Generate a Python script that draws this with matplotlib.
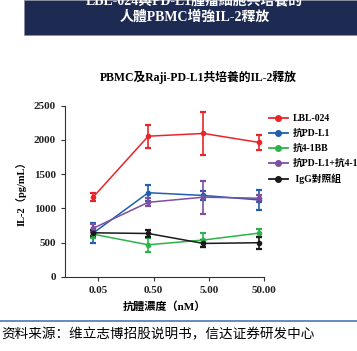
import numpy as np
import matplotlib.pyplot as plt
from matplotlib.patches import Rectangle
from matplotlib.lines import Line2D

plt.rcParams['font.family'] = ['Liberation Serif', 'Noto Sans CJK TC', 'DejaVu Sans']

# data
conc = np.array([0.04, 0.40, 4.0, 40.0])
tick_pos = [0.05, 0.5, 5, 50]
tick_lab = ["0.05", "0.50", "5.00", "50.00"]

series = ["LBL-024", "抗PD-L1", "抗4-1BB", "抗PD-L1+抗4-1BB", " IgG對照組"]
colors = ["#e8262a", "#1f5fb0", "#2db34a", "#7d4ea3", "#1a1a1a"]
vals = [
    [1165, 2055, 2095, 1965],
    [640, 1230, 1190, 1125],
    [625, 470, 540, 640],
    [710, 1090, 1165, 1150],
    [645, 635, 490, 500],
]
errs = [
    [60, 170, 310, 110],
    [145, 115, 60, 140],
    [60, 100, 100, 55],
    [60, 60, 240, 50],
    [40, 45, 50, 85],
]

fig = plt.figure(figsize=(3.57, 3.51), dpi=100)

# header box
fig.patches.append(Rectangle((24/357, 1-35/351), 1, 35/351, transform=fig.transFigure,
                             facecolor="#1d2a52", edgecolor="#8a8fa0", lw=0.6, zorder=0))
fig.text(0.545, 1-0.5/351, "LBL-024與PD-L1腫瘤細胞共培養的", color="white", fontsize=10,
         fontweight="bold", ha="center", va="center")
fig.text(0.545, 1-16.5/351, "人體PBMC增強IL-2釋放", color="white", fontsize=10,
         fontweight="bold", ha="center", va="center")

ax = fig.add_axes([65/357, 1-277/351, (264-65)/357, (277-105.7)/351])
for name, c, v, e in zip(series, colors, vals, errs):
    ax.errorbar(conc, v, yerr=e, color=c, marker="o", ms=3, lw=1.1,
                capsize=2.5, capthick=1.6, elinewidth=1.2)

ax.set_xscale("log")
ax.set_xlim(0.0124, 50)
ax.set_ylim(0, 2500)
ax.set_xticks(tick_pos)
ax.set_xticklabels(tick_lab)
ax.minorticks_off()
ax.set_yticks([0, 500, 1000, 1500, 2000, 2500])
ax.spines["top"].set_visible(False)
ax.spines["right"].set_visible(False)
for s in ["left", "bottom"]:
    ax.spines[s].set_linewidth(0.8)
    ax.spines[s].set_color("#333333")
ax.tick_params(labelsize=8, length=3, width=0.8, colors="#333333")
for t in ax.get_xticklabels() + ax.get_yticklabels():
    t.set_fontweight("bold")
    t.set_color("#222222")
ax.set_ylabel("IL-2（pg/mL）", fontsize=7.5, fontweight="bold", labelpad=5)
ax.set_xlabel("抗體濃度（nM）", fontsize=8, fontweight="bold", labelpad=4)
ax.set_title("PBMC及Raji-PD-L1共培養的IL-2釋放", fontsize=8.5, fontweight="bold",
             pad=18, x=0.67)

handles = [Line2D([], [], color=c, marker="o", ms=4, lw=1.3) for c in colors]
leg = ax.legend(handles, series, loc="upper left", bbox_to_anchor=(0.98, 1.0),
                frameon=False, handlelength=2.0, handletextpad=0.5, labelspacing=0.58,
                prop={"weight": "bold", "size": 7})

# bottom line and source
fig.add_artist(Line2D([0, 1], [1-321/351, 1-321/351], color="#4a78b8", lw=1.2))
fig.text(0.003, 1-334/351, "资料来源：维立志博招股说明书，信达证券研发中心", fontsize=9.8,
         style="italic", ha="left", va="center", family=["Noto Sans CJK SC", "DejaVu Sans"])

fig.savefig("out.png", dpi=100)
